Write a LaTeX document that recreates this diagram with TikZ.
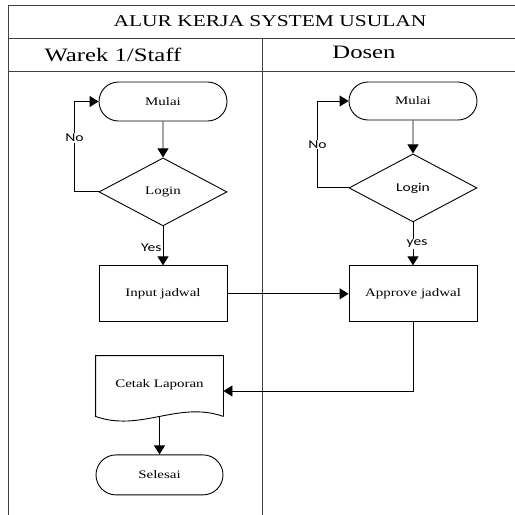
\documentclass[tikz,border=0pt]{standalone}
\usepackage{fontspec}
\setmainfont{Liberation Serif}[FakeStretch=1.3]
\newfontfamily\lblfont{Carlito}[FakeStretch=1.3]
\usepackage{tikz}
\usetikzlibrary{positioning}
\usetikzlibrary{shapes.geometric,shapes.misc}
\usetikzlibrary{arrows.meta}

\begin{document}
\begin{tikzpicture}[x=1pt, y=-1pt, line width=0.9pt,
	every node/.style={font=\fontsize{11.5}{13}\selectfont},
	term/.style={draw, rounded rectangle, minimum width=128pt, minimum height=39pt, inner sep=0pt},
	decide/.style={draw, diamond, minimum width=128pt, minimum height=68pt, inner sep=0pt},
	proc/.style={draw, rectangle, minimum width=128pt, minimum height=56pt, inner sep=0pt},
	lbl/.style={font=\lblfont\fontsize{12}{14}\selectfont, inner sep=1pt},
	arr/.style={-{Triangle[length=9pt,width=11pt]}},
	frame/.style={line width=0.9pt, black!75}
	]
	\useasboundingbox (0,0) rectangle (515,515);

	% swimlane frame
	\draw[frame] (8,515) -- (8,5) -- (515,5);
	\draw[frame] (8,38) -- (515,38);
	\draw[frame] (8,71) -- (515,71);
	\draw[frame] (262,38) -- (262,515);
	\node (title) at (270,21) {\fontsize{16.5}{19}\selectfont ALUR KERJA SYSTEM USULAN};
	\node (hdrA) at (113,55) {\fontsize{19}{22}\selectfont Warek 1/Staff};
	\node (hdrB) at (364,52) {\fontsize{19}{22}\selectfont Dosen};

	% lane 1
	\node[term] (mulaiA) at (163,101.5) {Mulai};
	\node[decide] (loginA) [below=36pt of mulaiA] {Login};
	\node[proc] (inputA) [below=39pt of loginA] {Input jadwal};
	\node[minimum width=127pt, minimum height=60pt, inner sep=0pt] (cetak) at (159.5,386) {\raisebox{4pt}{Cetak Laporan}};
	\node[term, minimum width=127pt, minimum height=40pt] (selesai) [below=38pt of cetak] {Selesai};

	% lane 2
	\node[term, minimum height=38pt] (mulaiB) at (413,101) {Mulai};
	\node[decide] (loginB) [below=33pt of mulaiB] {\lblfont\fontsize{12}{14}\selectfont Login};
	\node[proc] (approveB) [below=43pt of loginB] {Approve jadwal};

	% document shape
	\draw (cetak.south east) -- (cetak.north east) -- (cetak.north west) -- (cetak.south west)
		.. controls +(45,16) and +(-45,-16) .. (cetak.south east);

	\draw[arr] (mulaiA) -- (loginA);
	\draw[arr] (loginA.west) -- ++(-24,0) |- node[pos=0.3, lbl, fill=white] {No} (mulaiA.west);
	\draw[arr] (loginA) -- node[lbl, left, pos=0.55] {Yes} (inputA);
	\draw[arr] (inputA) -- (approveB);

	\draw[arr] (mulaiB) -- (loginB);
	\draw[arr] (loginB.west) -- ++(-31,0) |- node[pos=0.25, lbl, fill=white] {No} (mulaiB.west);
	\draw[arr] (loginB) -- node[lbl, fill=white, xshift=4pt, pos=0.5] {yes} (approveB);

	\draw[arr] (approveB.south) |- ([yshift=-5pt]cetak.east);
	\draw[arr] (cetak.south) -- (selesai);
\end{tikzpicture}
\end{document}
